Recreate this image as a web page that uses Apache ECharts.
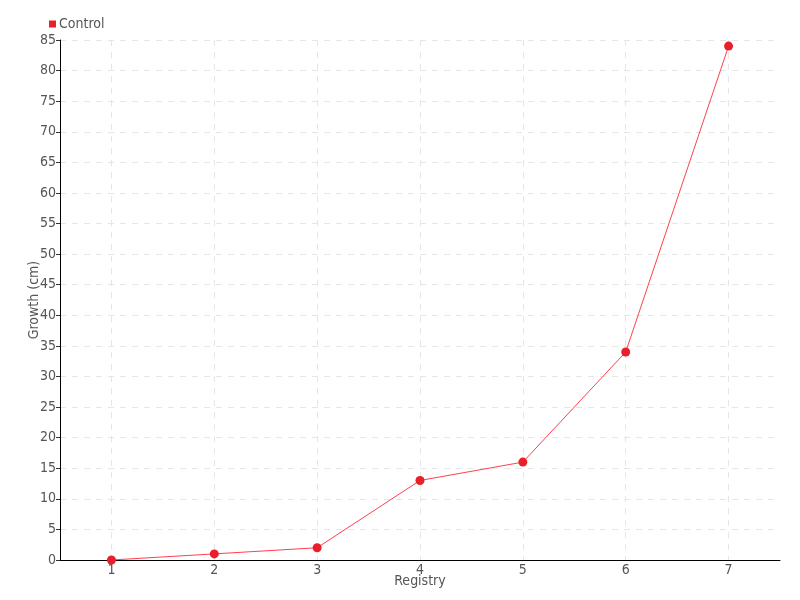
<!DOCTYPE html>
<html><head><meta charset="utf-8">
<script src="https://cdn.jsdelivr.net/npm/echarts@6/dist/echarts.min.js"></script>
<style>html,body{margin:0;padding:0;background:#fff}#c{width:800px;height:600px}</style>
</head><body><div id="c"></div>
<script>
const categories = ['1','2','3','4','5','6','7'];
const controlValues = [0, 1, 2, 13, 16, 34, 84];
const seriesName = 'Control';
const xName = 'Registry';
const yName = 'Growth (cm)';
const FONT = '"Liberation Sans Narrow", "DejaVu Sans Condensed", sans-serif';
const chart = echarts.init(document.getElementById('c'));
chart.setOption({
  animation: false,
  textStyle: {fontFamily: FONT, color: '#555'},
  legend: {
    left: 44, top: 12, itemWidth: 7, itemHeight: 7, itemGap: 4,
    icon: 'rect',
    textStyle: {fontFamily: FONT, fontSize: 14, color: '#555', padding: [0,0,0,-2]},
    data: [seriesName]
  },
  grid: {left: 60, right: 20, top: 40, bottom: 40, containLabel: false},
  xAxis: {
    type: 'category', data: categories, boundaryGap: true,
    name: xName, nameLocation: 'middle', nameGap: 14, nameMoveOverlap: false,
    nameTextStyle: {fontFamily: FONT, fontSize: 14, color: '#555'},
    axisLine: {lineStyle: {color: '#000', width: 1}},
    axisTick: {alignWithLabel: true, inside: true, length: 4, lineStyle: {color: '#bbb'}},
    axisLabel: {fontFamily: FONT, fontSize: 14, color: '#555', margin: 3},
    splitLine: {show: true, alignWithLabel: true, lineStyle: {color: '#e6e6e6', type: [6, 6], width: 1}}
  },
  yAxis: {
    type: 'value', min: 0, max: 85, interval: 5,
    name: yName, nameLocation: 'middle', nameGap: 19, nameMoveOverlap: false,
    nameTextStyle: {fontFamily: FONT, fontSize: 14, color: '#555'},
    axisLine: {show: true, lineStyle: {color: '#000', width: 1}},
    axisTick: {show: true, length: 4, lineStyle: {color: '#333'}},
    axisLabel: {fontFamily: FONT, fontSize: 14, color: '#555', margin: 4},
    splitLine: {show: true, lineStyle: {color: '#e6e6e6', type: [6, 6], width: 1}}
  },
  series: [{
    name: seriesName, type: 'line', data: controlValues,
    symbol: 'circle', symbolSize: 9,
    itemStyle: {color: '#e8202a'},
    lineStyle: {color: '#ff4050', width: 1}
  }]
});
</script></body></html>
